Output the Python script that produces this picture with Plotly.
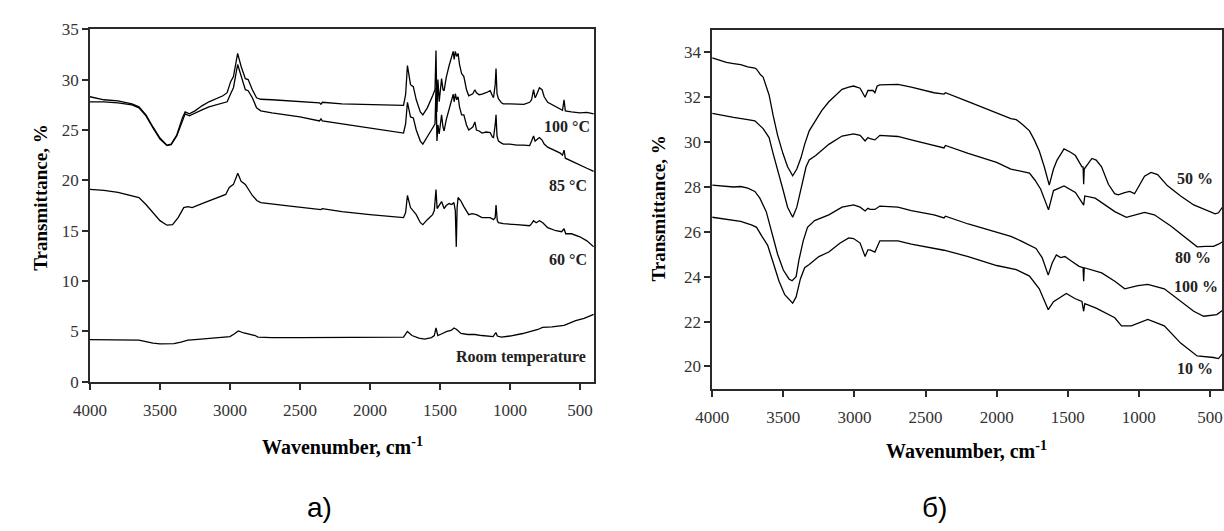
import plotly.graph_objects as go

# ---------------- data: panel a) ----------------
wn_100C = [4000, 3900, 3800, 3700, 3650, 3600, 3550, 3500, 3450, 3420, 3380, 3340, 3320, 3290, 3250, 3200,
           3150, 3100, 3050, 3020, 2995, 2975, 2945, 2920, 2890, 2870, 2840, 2810, 2780, 2700, 2500, 2360,
           2350, 2340, 2200, 2000, 1850, 1760, 1745, 1732, 1710, 1690, 1669, 1640, 1622, 1590, 1552, 1535,
           1528, 1521, 1514, 1505, 1488, 1478, 1470, 1455, 1434, 1415, 1405, 1398, 1390, 1380, 1370, 1360,
           1345, 1329, 1310, 1294, 1265, 1250, 1239, 1220, 1199, 1170, 1141, 1125, 1117, 1105, 1099, 1092,
           1082, 1060, 1047, 1000, 950, 900, 859, 845, 831, 820, 812, 789, 770, 755, 730, 700, 671, 640,
           624, 613, 604, 560, 500, 450, 401]
T_100C = [28.3, 28.0, 27.9, 27.6, 27.3, 26.5, 25.3, 24.2, 23.5, 23.6, 24.5, 26.2, 26.8, 26.6, 26.9, 27.4,
          27.8, 28.1, 28.4, 28.7, 29.8, 30.3, 32.6, 31.3, 30.1, 30.0, 29.0, 28.2, 28.05, 28.0, 27.8, 27.7,
          27.55, 27.75, 27.6, 27.5, 27.45, 27.45, 28.5, 31.4, 29.5, 29.3, 28.0, 26.8, 26.5, 27.2, 28.4, 29.0,
          32.9, 26.8, 30.0, 27.8, 30.1, 29.0, 28.9, 30.2, 31.4, 32.2, 32.8, 32.0, 32.8, 32.3, 32.6, 31.5,
          30.6, 30.3, 29.0, 28.4, 28.6, 29.0, 28.7, 28.5, 28.55, 28.7, 28.9, 28.4, 28.2, 29.5, 31.1, 28.6,
          28.1, 27.7, 27.6, 27.6, 27.55, 27.55, 27.75, 28.0, 29.0, 28.2, 28.4, 29.2, 29.0, 28.3, 27.75, 27.5,
          27.3, 27.05, 26.95, 28.0, 26.9, 26.8, 26.7, 26.75, 26.6]

wn_85C = wn_100C
T_85C = [27.8, 27.8, 27.7, 27.5, 27.2, 26.4, 25.2, 24.1, 23.45, 23.55, 24.4, 26.0, 26.6, 26.4, 26.7, 27.0,
         27.3, 27.5, 27.7, 27.8, 28.6, 29.2, 31.5, 30.3, 29.0, 28.9, 28.2, 27.2, 26.9, 26.7, 26.3, 25.9,
         26.1, 25.9, 25.6, 25.2, 24.9, 24.7, 25.6, 27.75, 26.3, 26.2, 25.0, 23.9, 23.6, 24.4, 25.2, 25.6,
         29.2, 23.9, 25.5, 24.6, 26.5, 25.3, 24.9, 26.0, 27.0, 27.9, 28.55, 27.8, 28.6, 28.0, 28.3, 27.3,
         26.5, 26.5, 25.5, 25.0, 25.3, 25.8, 25.0, 24.9, 24.7, 24.8, 24.75, 24.3, 24.25, 25.5, 26.5, 24.4,
         23.9, 23.7, 23.6, 23.6, 23.5, 23.5, 23.45, 23.9, 24.4, 23.9, 24.0, 24.25, 24.0, 23.6, 23.3, 23.1,
         22.97, 22.7, 22.5, 23.0, 22.2, 21.9, 21.5, 21.2, 20.9]

wn_60C = [4000, 3900, 3800, 3700, 3650, 3600, 3550, 3500, 3450, 3410, 3370, 3330, 3300, 3270, 3200, 3100,
          3030, 3005, 2975, 2944, 2920, 2890, 2866, 2840, 2808, 2780, 2600, 2350, 2340, 2200, 2000, 1850,
          1760, 1745, 1732, 1710, 1690, 1669, 1640, 1622, 1590, 1552, 1540, 1528, 1520, 1505, 1488, 1470,
          1455, 1434, 1415, 1400, 1390, 1383, 1377, 1370, 1352, 1329, 1294, 1270, 1239, 1199, 1141, 1117,
          1105, 1099, 1090, 1082, 1047, 950, 859, 845, 831, 812, 789, 765, 730, 671, 630, 613, 601, 560,
          500, 450, 401]
T_60C = [19.1, 19.0, 18.8, 18.5, 18.3, 17.6, 16.8, 16.0, 15.55, 15.6, 16.3, 17.3, 17.4, 17.3, 17.7, 18.2,
         18.6, 19.3, 19.6, 20.7, 19.9, 19.6, 19.1, 18.5, 18.0, 17.8, 17.5, 17.1, 17.2, 16.9, 16.6, 16.4,
         16.3, 16.8, 18.5, 17.3, 17.0, 16.6, 15.8, 15.6, 16.1, 16.6, 17.0, 19.1, 17.2, 17.5, 17.9, 17.2,
         17.5, 17.7, 17.6, 17.8, 17.0, 13.4, 17.3, 18.3, 18.0, 17.4, 16.6, 16.7, 16.6, 16.3, 16.3, 16.1,
         16.3, 17.55, 16.0, 15.8, 15.7, 15.6, 15.5, 15.7, 16.0, 15.8, 16.0, 15.8, 15.3, 15.0, 14.9, 15.2,
         14.7, 14.7, 14.4, 14.0, 13.4]

wn_room = [4000, 3900, 3800, 3700, 3650, 3600, 3550, 3500, 3450, 3400, 3350, 3300, 3250, 3150, 3050, 3000,
           2970, 2940, 2900, 2860, 2820, 2800, 2700, 2500, 2300, 2000, 1800, 1760, 1732, 1700, 1650, 1610,
           1560, 1540, 1528, 1515, 1490, 1450, 1420, 1399, 1380, 1350, 1300, 1250, 1200, 1150, 1120, 1100,
           1090, 1060, 1000, 908, 800, 767, 700, 613, 530, 470, 401]
T_room = [4.2, 4.2, 4.2, 4.2, 4.15, 4.0, 3.85, 3.78, 3.77, 3.8, 3.95, 4.15, 4.2, 4.3, 4.45, 4.5,
          4.75, 5.05, 4.85, 4.75, 4.6, 4.45, 4.4, 4.4, 4.4, 4.4, 4.4, 4.45, 5.0, 4.6, 4.35, 4.25,
          4.4, 4.6, 5.35, 4.6, 4.75, 5.0, 5.1, 5.35, 5.2, 4.8, 4.7, 4.7, 4.6, 4.5, 4.5, 4.9,
          4.55, 4.45, 4.55, 4.8, 5.2, 5.4, 5.45, 5.6, 6.07, 6.3, 6.7]

# ---------------- data: panel б) ----------------
wn_50 = [4000, 3950, 3900, 3850, 3800, 3750, 3700, 3688, 3660, 3642, 3600, 3572, 3540, 3503, 3470, 3434,
         3405, 3376, 3350, 3318, 3272, 3230, 3180, 3130, 3087, 3040, 3006, 2960, 2925, 2905, 2890, 2870,
         2856, 2840, 2821, 2760, 2694, 2600, 2440, 2370, 2360, 2200, 2100, 2000, 1900, 1862, 1820, 1769,
         1735, 1700, 1665, 1630, 1600, 1575, 1526, 1480, 1446, 1400, 1392, 1388, 1384, 1330, 1300, 1262,
         1214, 1170, 1145, 1100, 1064, 1030, 960, 914, 868, 798, 706, 614, 544, 463, 440, 405]
T_50 = [33.75, 33.65, 33.55, 33.5, 33.45, 33.35, 33.3, 33.25, 33.0, 32.9, 32.1, 31.2, 30.3, 29.5, 28.9, 28.5,
        28.8, 29.3, 29.9, 30.5, 31.0, 31.4, 31.8, 32.1, 32.35, 32.45, 32.5, 32.4, 32.0, 32.3, 32.3, 32.3,
        32.2, 32.5, 32.55, 32.57, 32.57, 32.45, 32.2, 32.14, 32.2, 31.8, 31.55, 31.3, 31.05, 31.0, 30.8, 30.5,
        30.1, 29.6, 28.9, 28.08, 28.8, 29.2, 29.7, 29.55, 29.4, 28.9, 28.9, 28.12, 28.8, 29.27, 29.2, 28.9,
        28.12, 27.7, 27.65, 27.75, 27.8, 27.7, 28.48, 28.65, 28.55, 28.05, 27.6, 27.2, 27.0, 26.8, 26.85, 27.16]

wn_80 = [4000, 3900, 3850, 3750, 3700, 3642, 3600, 3572, 3540, 3503, 3470, 3434, 3405, 3376, 3340, 3318,
         3272, 3180, 3087, 3006, 2960, 2925, 2905, 2890, 2856, 2821, 2694, 2600, 2440, 2370, 2360, 2200,
         2000, 1900, 1769, 1730, 1690, 1635, 1600, 1526, 1446, 1395, 1388, 1380, 1307, 1169, 1088, 960,
         891, 775, 660, 590, 530, 475, 440, 405]
T_80 = [31.28, 31.15, 31.1, 31.0, 30.95, 30.6, 30.2, 29.5, 28.7, 27.9, 27.1, 26.65, 27.1, 27.9, 28.9, 29.2,
        29.4, 29.9, 30.27, 30.37, 30.3, 30.05, 30.2, 30.15, 30.1, 30.3, 30.25, 30.1, 29.84, 29.74, 29.85, 29.5,
        29.1, 28.8, 28.62, 28.3, 27.9, 26.98, 27.84, 28.05, 27.76, 27.3, 27.19, 27.6, 27.5, 26.9, 26.65, 26.87,
        26.76, 26.26, 25.69, 25.33, 25.35, 25.35, 25.45, 25.58]

wn_100 = [4000, 3950, 3900, 3850, 3800, 3750, 3700, 3665, 3620, 3580, 3540, 3500, 3460, 3438, 3410, 3390,
          3360, 3330, 3280, 3180, 3087, 3006, 2960, 2925, 2905, 2890, 2856, 2821, 2694, 2600, 2440, 2370,
          2360, 2200, 2000, 1900, 1830, 1723, 1680, 1637, 1610, 1580, 1550, 1520, 1475, 1420, 1392, 1388,
          1384, 1261, 1169, 1099, 1006, 937, 821, 706, 614, 544, 452, 405]
T_100 = [28.08, 28.05, 28.05, 28.0, 28.02, 27.95, 27.8, 27.5, 26.9, 26.0, 25.0, 24.3, 23.9, 23.82, 24.0, 24.75,
         25.6, 26.2, 26.5, 26.76, 27.1, 27.2, 27.1, 26.93, 27.05, 27.0, 27.0, 27.15, 27.1, 26.95, 26.76, 26.62,
         26.7, 26.35, 26.0, 25.8, 25.6, 25.26, 24.85, 24.07, 24.6, 24.97, 24.85, 24.9, 24.7, 24.46, 24.4, 23.8,
         24.4, 24.17, 23.8, 23.46, 23.6, 23.66, 23.46, 22.89, 22.46, 22.24, 22.31, 22.53]

wn_10 = [4000, 3900, 3800, 3720, 3688, 3650, 3610, 3570, 3530, 3490, 3450, 3434, 3410, 3380, 3350, 3318,
         3250, 3180, 3100, 3040, 3006, 2960, 2925, 2905, 2890, 2856, 2821, 2694, 2600, 2440, 2370, 2200,
         2000, 1862, 1769, 1700, 1637, 1600, 1510, 1450, 1400, 1388, 1380, 1300, 1169, 1122, 1053, 937,
         821, 706, 590, 475, 440, 405]
T_10 = [26.65, 26.55, 26.47, 26.3, 26.2, 25.8, 25.4, 24.6, 23.8, 23.2, 22.9, 22.82, 23.1, 23.9, 24.4, 24.54,
        24.9, 25.1, 25.5, 25.73, 25.7, 25.5, 24.9, 25.2, 25.2, 25.1, 25.6, 25.6, 25.45, 25.26, 25.18, 24.9,
        24.5, 24.32, 24.03, 23.46, 22.53, 22.89, 23.25, 23.03, 22.9, 22.46, 22.8, 22.6, 22.17, 21.81, 21.81, 22.1,
        21.81, 21.04, 20.47, 20.4, 20.35, 20.62]

x_ticks = [4000, 3500, 3000, 2500, 2000, 1500, 1000, 500]
y_ticks_a = [0, 5, 10, 15, 20, 25, 30, 35]
y_ticks_b = [20, 22, 24, 26, 28, 30, 32, 34]

left_series = [(wn_100C, T_100C), (wn_85C, T_85C), (wn_60C, T_60C), (wn_room, T_room)]
right_series = [(wn_50, T_50), (wn_80, T_80), (wn_100, T_100), (wn_10, T_10)]

# ---------------- figure ----------------
W, H = 1224, 531
def px(x):
    return x / W
def py(y):
    return 1 - y / H

SERIF = "Liberation Serif"
fig = go.Figure()
for wn, t in left_series:
    fig.add_trace(go.Scatter(x=wn, y=t, mode="lines", line=dict(color="black", width=1.3),
                             xaxis="x", yaxis="y", showlegend=False, hoverinfo="skip"))
for wn, t in right_series:
    fig.add_trace(go.Scatter(x=wn, y=t, mode="lines", line=dict(color="black", width=1.3),
                             xaxis="x2", yaxis="y2", showlegend=False, hoverinfo="skip"))

ax = dict(showline=True, linecolor="#2a2a2a", linewidth=1.5, mirror=True, ticks="outside",
          ticklen=6, tickwidth=1.5, tickcolor="#2a2a2a", showgrid=False, zeroline=False,
          tickfont=dict(family=SERIF, size=17, color="#333333"))

fig.update_layout(
    width=W, height=H, margin=dict(l=0, r=0, t=0, b=0),
    paper_bgcolor="white", plot_bgcolor="white",
    xaxis=dict(ax, domain=[px(74), px(585)], range=[4000, 400], tickvals=x_ticks, anchor="y",
               ticklabelstandoff=6),
    yaxis=dict(ax, domain=[py(386.7), py(21)], range=[0, 35], tickvals=y_ticks_a, anchor="x"),
    xaxis2=dict(ax, domain=[px(705), px(1222)], range=[4000, 415], tickvals=x_ticks, anchor="y2",
                ticklabelstandoff=6),
    yaxis2=dict(ax, domain=[py(394), py(21.7)], range=[19, 35], tickvals=y_ticks_b, anchor="x2"),
)

ytitle = dict(family=SERIF, size=19, color="black", weight="bold")
xtitle = dict(family=SERIF, size=20, color="black", weight="bold")
lab = dict(family=SERIF, size=16, color="#222222", weight="bold")
panel = dict(family="Liberation Sans", size=28, color="black")
anns = [
    dict(text="Transmittance, %", x=px(24), y=py(196), textangle=-90, font=ytitle),
    dict(text="Transmittance, %", x=px(651), y=py(207), textangle=-90, font=ytitle),
    dict(text="Wavenumber, cm<sup>-1</sup>", x=px(330), y=py(453), font=xtitle),
    dict(text="Wavenumber, cm<sup>-1</sup>", x=px(963), y=py(457), font=xtitle),
    dict(text="a)", x=px(307), y=py(517), font=panel),
    dict(text="б)", x=px(930), y=py(517), font=panel),
    dict(text="100 °C", x=px(583), y=py(122), xanchor="right", font=lab),
    dict(text="85 °C", x=px(580), y=py(183), xanchor="right", font=lab),
    dict(text="60 °C", x=px(580), y=py(260), xanchor="right", font=lab),
    dict(text="Room temperature", x=px(579), y=py(361), xanchor="right", font=lab),
    dict(text="50 %", x=px(1215), y=py(176), xanchor="right", font=lab),
    dict(text="80 %", x=px(1213), y=py(258), xanchor="right", font=lab),
    dict(text="100 %", x=px(1220), y=py(288), xanchor="right", font=lab),
    dict(text="10 %", x=px(1215), y=py(373), xanchor="right", font=lab),
]
for a in anns:
    a.setdefault("xanchor", "center")
    fig.add_annotation(xref="paper", yref="paper", showarrow=False, yanchor="middle", **a)

fig.write_html("out.html")
